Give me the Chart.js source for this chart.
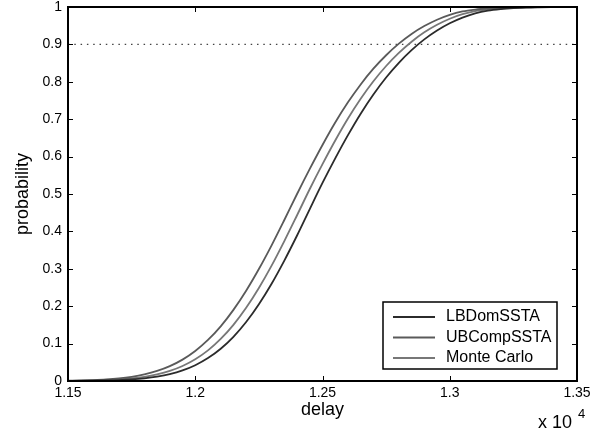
<!DOCTYPE html>
<html>
<head>
<meta charset="utf-8">
<script src="https://cdn.jsdelivr.net/npm/chart.js@4.4.1/dist/chart.umd.min.js"></script>
<style>
  body { margin: 0; background: #fff; }
  #wrap { width: 611px; height: 436px; }
</style>
</head>
<body>
<div id="wrap"><canvas id="cdfChart" width="611" height="436"></canvas></div>
<script>
// delay values (axis shows them x 10^4)
const delays = [11500, 11550, 11600, 11650, 11700, 11750, 11800, 11850, 11900, 11950,
                12000, 12050, 12100, 12150, 12200, 12250, 12300, 12350, 12400, 12450,
                12500, 12550, 12600, 12650, 12700, 12750, 12800, 12850, 12900, 12950,
                13000, 13050, 13100, 13150, 13200, 13250, 13300, 13350, 13400, 13450, 13500];

// probabilities
const lbDomSSTA  = [0.0002, 0.0004, 0.0008, 0.0014, 0.0025, 0.0043, 0.0072, 0.0117, 0.0184, 0.0283,
                    0.0422, 0.0612, 0.0862, 0.1182, 0.1577, 0.2053, 0.2601, 0.3220, 0.3890, 0.4598,
                    0.5295, 0.5952, 0.6574, 0.7148, 0.7661, 0.8115, 0.8508, 0.8846, 0.9134, 0.9372,
                    0.9565, 0.9717, 0.9830, 0.9902, 0.9943, 0.9969, 0.9984, 0.9992, 0.9997, 1, 1];
const ubCompSSTA = [0.0008, 0.0014, 0.0025, 0.0042, 0.0070, 0.0113, 0.0176, 0.0268, 0.0397, 0.0572,
                    0.0802, 0.1097, 0.1462, 0.1902, 0.2414, 0.2994, 0.3628, 0.4305, 0.5000, 0.5670,
                    0.6310, 0.6910, 0.7450, 0.7930, 0.8350, 0.8710, 0.9020, 0.9280, 0.9490, 0.9660,
                    0.9790, 0.9880, 0.9930, 0.9960, 0.9980, 0.9990, 0.9995, 1, 1, 1, 1];
const monteCarlo = [0.0004, 0.0007, 0.0013, 0.0024, 0.0041, 0.0069, 0.0111, 0.0176, 0.0269, 0.0401,
                    0.0581, 0.0818, 0.1124, 0.1501, 0.1957, 0.2487, 0.3085, 0.3741, 0.4432, 0.5134,
                    0.5798, 0.6430, 0.7018, 0.7546, 0.8014, 0.8422, 0.8772, 0.9072, 0.9322, 0.9524,
                    0.9686, 0.9808, 0.9890, 0.9936, 0.9964, 0.9982, 0.9991, 0.9996, 1, 1, 1];

const seriesNames = ['LBDomSSTA', 'UBCompSSTA', 'Monte Carlo'];
const seriesColors = ['#2b2b2b', '#5a5a5a', '#777777'];
const refLevel = 0.9;

const xTicks = [11500, 12000, 12500, 13000, 13500];
const yTicks = [0, 0.1, 0.2, 0.3, 0.4, 0.5, 0.6, 0.7, 0.8, 0.9, 1];

function toPoints(values) {
  return values.map((v, i) => ({ x: delays[i], y: v }));
}

const fontFamily = '"Liberation Sans", Arial, sans-serif';

// ticks inside the box, box border, legend and "x 10^4" label
const matlabAxes = {
  id: 'matlabAxes',
  afterDraw(chart) {
    const ctx = chart.ctx;
    const a = chart.chartArea;
    const xs = chart.scales.x, ys = chart.scales.y;
    ctx.save();
    ctx.strokeStyle = '#000';
    ctx.lineWidth = 1;
    ctx.beginPath();
    xTicks.forEach(t => {
      const px = Math.round(xs.getPixelForValue(t)) + 0.5;
      ctx.moveTo(px, a.bottom); ctx.lineTo(px, a.bottom - 5);
      ctx.moveTo(px, a.top); ctx.lineTo(px, a.top + 5);
    });
    yTicks.forEach(t => {
      const py = Math.round(ys.getPixelForValue(t)) + 0.5;
      ctx.moveTo(a.left, py); ctx.lineTo(a.left + 5, py);
      ctx.moveTo(a.right, py); ctx.lineTo(a.right - 5, py);
    });
    ctx.stroke();

    ctx.lineWidth = 2;
    ctx.strokeRect(a.left, a.top, a.right - a.left, a.bottom - a.top);

    // legend
    const lx = 383, ly = 302, lw = 174, lh = 67;
    ctx.fillStyle = '#fff';
    ctx.fillRect(lx, ly, lw, lh);
    ctx.lineWidth = 1.5;
    ctx.strokeStyle = '#000';
    ctx.strokeRect(lx, ly, lw, lh);
    ctx.font = '16px ' + fontFamily;
    ctx.textBaseline = 'middle';
    seriesNames.forEach((name, i) => {
      const yy = ly + 15 + i * 20.5;
      ctx.strokeStyle = seriesColors[i];
      ctx.lineWidth = 2;
      ctx.beginPath();
      ctx.moveTo(lx + 10, yy); ctx.lineTo(lx + 52, yy);
      ctx.stroke();
      ctx.fillStyle = '#000';
      ctx.fillText(name, lx + 63, yy);
    });

    // exponent label
    ctx.fillStyle = '#000';
    ctx.textBaseline = 'alphabetic';
    ctx.font = '18px ' + fontFamily;
    ctx.fillText('x 10', 538, 428);
    ctx.font = '13px ' + fontFamily;
    ctx.fillText('4', 578, 418);
    ctx.restore();
  }
};

const ctx = document.getElementById('cdfChart').getContext('2d');
const cdfChart = new Chart(ctx, {
  type: 'line',
  data: {
    datasets: [
      { label: seriesNames[0], data: toPoints(lbDomSSTA), borderColor: seriesColors[0] },
      { label: seriesNames[1], data: toPoints(ubCompSSTA), borderColor: seriesColors[1] },
      { label: seriesNames[2], data: toPoints(monteCarlo), borderColor: seriesColors[2] },
      {
        label: 'ref',
        data: [{ x: delays[0], y: refLevel }, { x: delays[delays.length - 1], y: refLevel }],
        borderColor: '#444',
        borderWidth: 1.3,
        borderDash: [1.5, 4.8]
      }
    ]
  },
  options: {
    responsive: false,
    animation: false,
    devicePixelRatio: 1,
    layout: { padding: { top: 7, right: 34, left: 8, bottom: 13 } },
    elements: {
      point: { radius: 0 },
      line: { borderWidth: 1.8, cubicInterpolationMode: 'monotone', fill: false }
    },
    plugins: { legend: { display: false }, tooltip: { enabled: false } },
    scales: {
      x: {
        type: 'linear',
        min: 11500,
        max: 13500,
        afterBuildTicks: s => { s.ticks = xTicks.map(v => ({ value: v })); },
        afterFit: s => { s.height = 42; s.paddingLeft = 0; s.paddingRight = 0; },
        grid: { display: false, drawTicks: false },
        border: { display: false },
        ticks: {
          color: '#000',
          padding: 4,
          maxRotation: 0,
          font: { family: fontFamily, size: 14 },
          callback: v => String(+(v / 10000).toFixed(2))
        },
        title: {
          display: true,
          text: 'delay',
          color: '#000',
          padding: { top: 0, bottom: 2 },
          font: { family: fontFamily, size: 18 }
        }
      },
      y: {
        min: 0,
        max: 1,
        afterBuildTicks: s => { s.ticks = yTicks.map(v => ({ value: v })); },
        afterFit: s => { s.width = 60; s.paddingTop = 0; s.paddingBottom = 0; },
        grid: { display: false, drawTicks: false },
        border: { display: false },
        ticks: {
          color: '#000',
          padding: 6,
          font: { family: fontFamily, size: 14 },
          callback: v => String(v)
        },
        title: {
          display: true,
          text: 'probability',
          color: '#000',
          padding: { bottom: 2 },
          font: { family: fontFamily, size: 18 }
        }
      }
    }
  },
  plugins: [matlabAxes]
});
</script>
</body>
</html>
